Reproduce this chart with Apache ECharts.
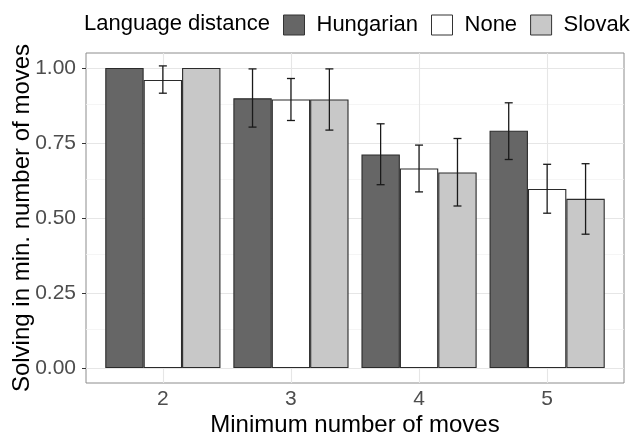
<!DOCTYPE html>
<html>
<head>
<meta charset="utf-8">
<script src="https://cdn.jsdelivr.net/npm/echarts@6/dist/echarts.min.js"></script>
<style>
  html, body { margin: 0; padding: 0; background: #ffffff; }
  #chart { width: 630px; height: 437px; }
</style>
</head>
<body>
<div id="chart"></div>
<script>
// Minimum number of moves (x positions of the bar groups)
const moves = [2, 3, 4, 5];

// Proportion solved in the minimum number of moves, per language distance
const hungarian = [1.000, 0.899, 0.712, 0.791];
const none      = [0.960, 0.895, 0.665, 0.597];
const slovak    = [1.000, 0.895, 0.652, 0.564];

// Error bar limits (null = no bar drawn)
const hungarianLow  = [null, 0.803, 0.611, 0.695];
const hungarianHigh = [null, 0.997, 0.814, 0.884];
const noneLow       = [0.916, 0.825, 0.587, 0.516];
const noneHigh      = [1.007, 0.965, 0.743, 0.679];
const slovakLow     = [null, 0.793, 0.540, 0.446];
const slovakHigh    = [null, 0.997, 0.765, 0.681];

// Axis breaks
const yMajor = [0, 0.25, 0.5, 0.75, 1];
const yMinor = [0.125, 0.375, 0.625, 0.875];
const yTickLabels = ['0.00', '0.25', '0.50', '0.75', '1.00'];

const groupNames = ['Hungarian', 'None', 'Slovak'];
const groupValues = [hungarian, none, slovak];
const groupLows = [hungarianLow, noneLow, slovakLow];
const groupHighs = [hungarianHigh, noneHigh, slovakHigh];
const fills = ['#666666', '#ffffff', '#c8c8c8'];

const FONT = 'Liberation Sans, Arial, Helvetica, sans-serif';
const DODGE = 0.3;   // width of one bar in x units (0.9 / 3)

const chart = echarts.init(document.getElementById('chart'));

const barSeries = groupNames.map((name, g) => ({
  name: name,
  type: 'bar',
  data: moves.map((m, i) => [m, groupValues[g][i]]),
  barWidth: 38.4,
  barGap: '0%',
  z: 2,
  itemStyle: { color: fills[g], borderColor: '#2b2b2b', borderWidth: 1.1 },
  emphasis: { disabled: true }
}));

// error bars: [x, low, high, group index]
const errData = [];
groupNames.forEach((name, g) => {
  moves.forEach((m, i) => {
    if (groupLows[g][i] != null) {
      errData.push([m, groupLows[g][i], groupHighs[g][i], g]);
    }
  });
});

const errorSeries = {
  name: 'errors',
  type: 'custom',
  z: 3,
  silent: true,
  data: errData,
  encode: { x: 0, y: [1, 2] },
  renderItem: function (params, api) {
    const x = api.value(0) + (api.value(3) - 1) * DODGE;
    const lo = api.coord([x, api.value(1)]);
    const hi = api.coord([x, api.value(2)]);
    const half = 4;
    const style = { stroke: '#1a1a1a', lineWidth: 1.3 };
    return {
      type: 'group',
      children: [
        { type: 'line', shape: { x1: lo[0], y1: lo[1], x2: hi[0], y2: hi[1] }, style: style },
        { type: 'line', shape: { x1: lo[0] - half, y1: lo[1], x2: lo[0] + half, y2: lo[1] }, style: style },
        { type: 'line', shape: { x1: hi[0] - half, y1: hi[1], x2: hi[0] + half, y2: hi[1] }, style: style }
      ]
    };
  }
};

// panel grid lines
const gridSeries = {
  name: 'gridlines',
  type: 'line',
  data: [],
  silent: true,
  markLine: {
    silent: true,
    z: 1,
    symbol: ['none', 'none'],
    label: { show: false },
    animation: false,
    data: [].concat(
      yMinor.map(v => ({ yAxis: v, lineStyle: { color: '#f2f2f2', width: 0.8, type: 'solid' } })),
      yMajor.map(v => ({ yAxis: v, lineStyle: { color: '#e6e6e6', width: 1.1, type: 'solid' } })),
      moves.map(v => ({ xAxis: v, lineStyle: { color: '#e6e6e6', width: 1.1, type: 'solid' } }))
    )
  }
};

chart.setOption({
  animation: false,
  backgroundColor: '#ffffff',
  title: {
    text: 'Language distance',
    left: 79,
    top: 8,
    textStyle: { fontFamily: FONT, fontSize: 22, fontWeight: 'normal', color: '#000000' }
  },
  legend: {
    data: groupNames,
    orient: 'horizontal',
    left: 283,
    top: 14,
    width: 360,
    icon: 'rect',
    itemWidth: 21,
    itemHeight: 20,
    itemGap: 13,
    padding: 0,
    selectedMode: false,
    itemStyle: { borderColor: '#333333', borderWidth: 1 },
    textStyle: { fontFamily: FONT, fontSize: 22, color: '#000000', padding: [0, 0, 0, 7] }
  },
  grid: {
    left: 86,
    right: 6,
    top: 53,
    bottom: 54,
    containLabel: false,
    outerBoundsMode: 'none',
    show: true,
    borderColor: '#8c8c8c',
    borderWidth: 1,
    backgroundColor: '#ffffff'
  },
  xAxis: {
    type: 'value',
    min: 1.4,
    max: 5.6,
    name: 'Minimum number of moves',
    nameLocation: 'middle',
    nameGap: 30,
    nameMoveOverlap: false,
    nameTextStyle: { fontFamily: FONT, fontSize: 24, color: '#000000' },
    axisLine: { show: false },
    splitLine: { show: false },
    axisTick: { show: true, length: 4, customValues: moves, lineStyle: { color: '#333333' } },
    axisLabel: {
      customValues: moves,
      margin: 6,
      fontFamily: FONT,
      fontSize: 21,
      color: '#4d4d4d'
    }
  },
  yAxis: {
    type: 'value',
    min: -0.05,
    max: 1.05,
    name: 'Solving in min. number of moves',
    nameLocation: 'middle',
    nameGap: 52,
    nameMoveOverlap: false,
    nameTextStyle: { fontFamily: FONT, fontSize: 24, color: '#000000' },
    axisLine: { show: false },
    splitLine: { show: false },
    axisTick: { show: true, length: 4, customValues: yMajor, lineStyle: { color: '#333333' } },
    axisLabel: {
      customValues: yMajor,
      margin: 10,
      fontFamily: FONT,
      fontSize: 21,
      color: '#4d4d4d',
      formatter: function (v) {
        const k = yMajor.findIndex(t => Math.abs(t - v) < 1e-9);
        return k >= 0 ? yTickLabels[k] : '';
      }
    }
  },
  series: [gridSeries].concat(barSeries, [errorSeries])
});
</script>
</body>
</html>
